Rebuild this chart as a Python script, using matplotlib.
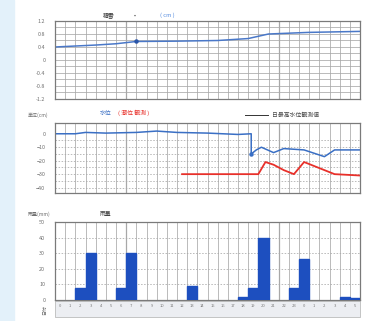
import matplotlib
matplotlib.use("Agg")
import matplotlib.pyplot as plt
import numpy as np

plt.rcParams['font.family'] = ['Noto Sans CJK JP', 'DejaVu Sans']

# ---- data ----
n_cat = 30
top_x = [0, 4, 6, 8, 12, 16, 19, 21, 25, 30]
top_vals = [0.40, 0.46, 0.50, 0.57, 0.58, 0.60, 0.66, 0.80, 0.85, 0.88]

blue_x = [0, 2, 3, 5, 8, 10, 12, 15, 18, 19.3, 19.3, 19.8, 20.3, 21.5, 22.5, 24.5, 26.5, 27.5, 30]
blue_vals = [0, 0, 1, 0.5, 1, 2, 1, 0.5, -0.5, 0, -15, -12, -10, -14, -11, -12, -17, -12, -12]

red_x = [12.5, 15, 18, 20, 20.7, 21.5, 22.5, 23.5, 24.5, 25.5, 26.5, 27.5, 30]
red_vals = [-30, -30, -30, -30, -21, -23, -27, -30, -21, -24, -27, -30, -31]

rain_idx = [2, 3, 6, 7, 13, 18, 19, 20, 23, 24, 28, 29]
rain_vals = [8, 30, 8, 30, 9, 2, 8, 40, 8, 26, 2, 1]

date_labels = ["%d" % (i % 24) for i in range(n_cat)]

W, H = 366, 321
fig = plt.figure(figsize=(W / 100, H / 100), dpi=100)
fig.patch.set_facecolor('white')

# light blue strip on left
fig.patches.append(matplotlib.patches.Rectangle((0, 0), 14 / W, 1, transform=fig.transFigure,
                                                color='#e3f1fa', zorder=0))

def ax_at(x0, y0, x1, y1):
    return fig.add_axes([x0 / W, 1 - y1 / H, (x1 - x0) / W, (y1 - y0) / H])

grid_c = '#a8a8a8'
fs = 3.9

def style(ax):
    for s in ax.spines.values():
        s.set_color('#7a7a7a')
        s.set_linewidth(0.9)
    ax.tick_params(length=0, labelsize=fs, colors='#707070', pad=7)
    ax.set_xlim(0, n_cat)
    for i in range(1, n_cat):
        lw = 0.9 if i in (7, 22) else 0.55
        ax.axvline(i, color=grid_c, lw=lw, zorder=0)
    ax.set_xticks([])

# ---- top panel ----
ax1 = ax_at(55, 21, 360, 99)
style(ax1)
ax1.set_ylim(-1.2, 1.2)
ax1.set_yticks([1.2, 0.8, 0.4, 0, -0.4, -0.8, -1.2])
ax1.set_yticklabels(['1.2', '0.8', '0.4', '0', '-0.4', '-0.8', '-1.2'])
for v in np.arange(-1.0, 1.2, 0.2):
    ax1.axhline(v, color=grid_c, lw=0.55, zorder=0)
ax1.plot(top_x, top_vals, color='#4a78c8', lw=1.1)
ax1.plot([8], [0.57], 'o', color='#2a55a8', ms=2.2)
fig.text(103 / W, 1 - 15 / H, '積雪', fontsize=4.2, color='#333333', va='center')
fig.text(134 / W, 1 - 15 / H, '•', fontsize=4.2, color='#555555', va='center')
fig.text(160 / W, 1 - 15 / H, '( cm )', fontsize=4.2, color='#5a8fe0', va='center')

# ---- middle panel ----
ax2 = ax_at(55, 123, 360, 193)
style(ax2)
ax2.set_ylim(-44, 8)
ax2.set_yticks([0, -10, -20, -30, -40])
for v in [-5, -10, -15, -20, -25, -30, -35, -40]:
    ax2.axhline(v, color=grid_c, lw=0.55, ls=(0, (2, 2)), zorder=0)
ax2.plot(blue_x, blue_vals, color='#3a6fc4', lw=1.1)
ax2.plot(red_x, red_vals, color='#e8302a', lw=1.3)
ax2.plot([19.3], [-15], 'o', color='#3a6fc4', ms=2.2)
fig.text(28 / W, 1 - 115 / H, '単位(cm)', fontsize=3.6, color='#707070', va='center')
fig.text(100 / W, 1 - 113 / H, '水位', fontsize=4.2, color='#3a6fc4', va='center')
fig.text(118 / W, 1 - 113 / H, '( 潮位 観測 )', fontsize=4.2, color='#e8302a', va='center')
fig.text(272 / W, 1 - 115 / H, '日最高水位観測値', fontsize=4.2, color='#444444', va='center')
fig.add_artist(matplotlib.lines.Line2D([245 / W, 268 / W], [1 - 115 / H, 1 - 115 / H],
                                       color='#333333', lw=0.7))

# ---- bottom panel ----
ax3 = ax_at(55, 222, 360, 300)
style(ax3)
ax3.set_ylim(0, 50)
ax3.set_yticks([0, 10, 20, 30, 40, 50])
for v in [10, 20, 30, 40]:
    ax3.axhline(v, color=grid_c, lw=0.55, ls=(0, (2, 2)), zorder=0)
ax3.bar(np.array(rain_idx) + 0.5, rain_vals, width=1.0, color='#1d4fbf', edgecolor='#1d4fbf', zorder=3)
ax3.set_xticks(np.arange(n_cat) + 0.5)
ax3.set_xticklabels(date_labels, fontsize=3.0, color='#7a7a7a')
ax3.tick_params(axis='x', pad=3)
# date band below bottom axes
band = matplotlib.patches.Rectangle((55 / W, 1 - 317 / H), 305 / W, 16 / H,
                                    transform=fig.transFigure, facecolor='#eceef2',
                                    edgecolor='#b0b0b0', lw=0.5, zorder=0.2, clip_on=False)
ax3.add_patch(band)
fig.text(28 / W, 1 - 214 / H, '雨量(mm)', fontsize=3.6, color='#707070', va='center')
fig.text(100 / W, 1 - 215 / H, '雨量', fontsize=4.2, color='#444444', va='center')
fig.text(42 / W, 1 - 310 / H, '日付', fontsize=3.6, color='#707070', va='center', rotation=90)

fig.savefig('out.png', dpi=100)
